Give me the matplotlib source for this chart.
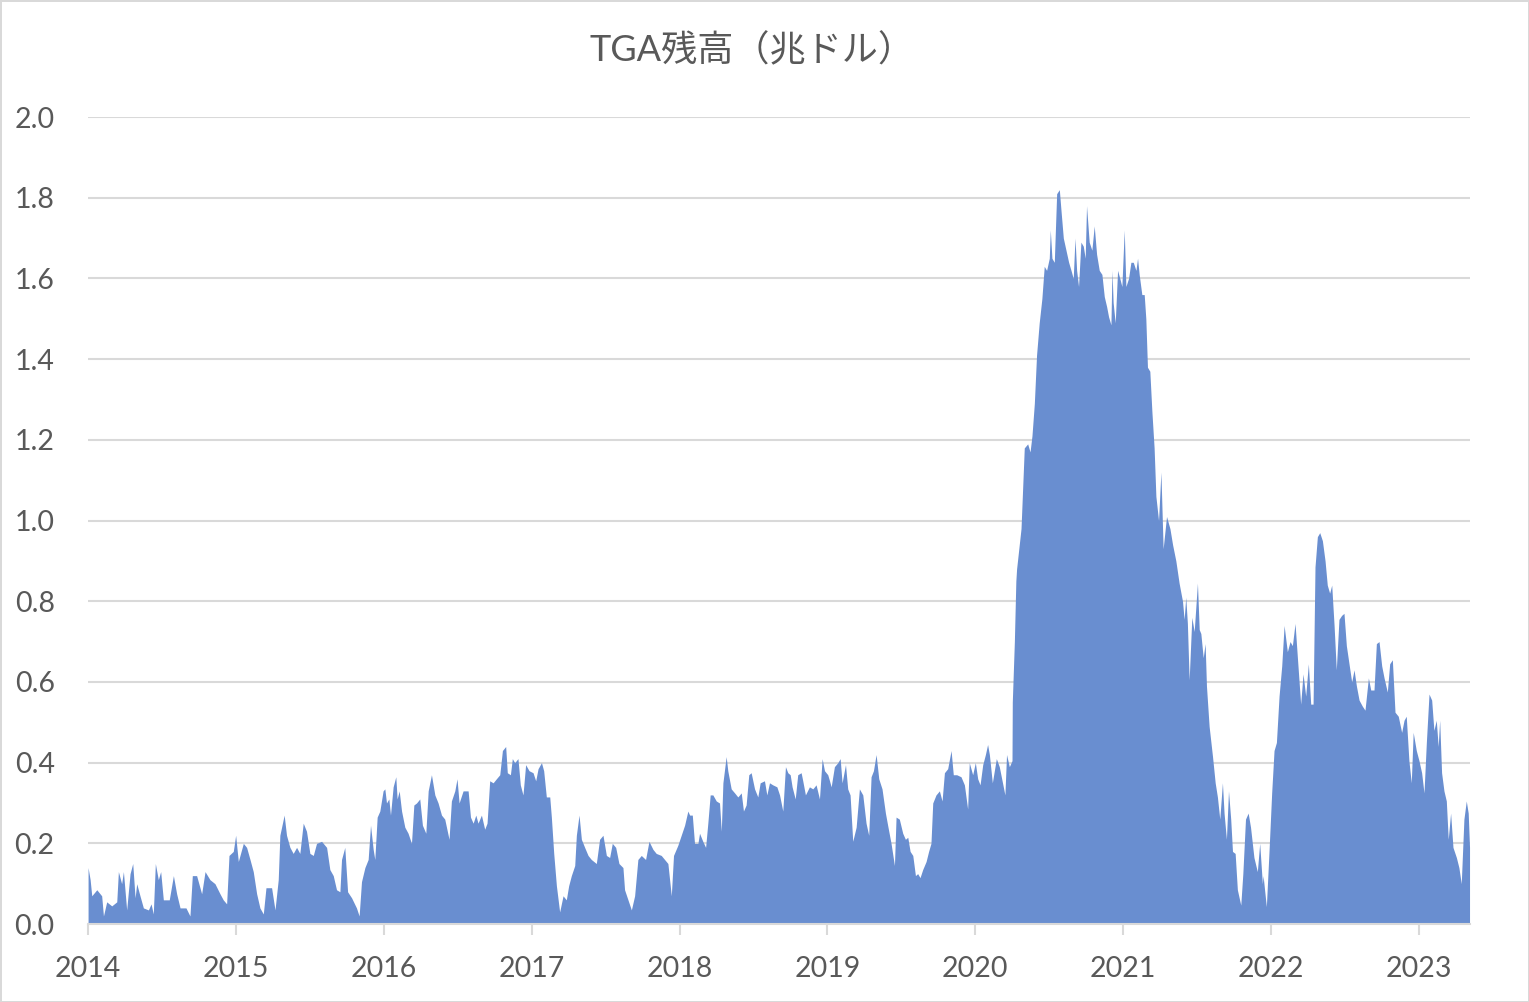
import matplotlib
matplotlib.use("Agg")
import matplotlib.pyplot as plt

# TGA balance (trillion USD); x is the decimal year
years = [
    2014.000, 2014.014, 2014.025, 2014.059, 2014.092, 2014.104, 2014.126, 2014.160, 2014.194, 2014.205,
    2014.227, 2014.239, 2014.261, 2014.284, 2014.302, 2014.318, 2014.329, 2014.351, 2014.374, 2014.408,
    2014.426, 2014.441, 2014.455, 2014.475, 2014.491, 2014.509, 2014.549, 2014.577, 2014.599, 2014.622,
    2014.662, 2014.689, 2014.705, 2014.734, 2014.768, 2014.791, 2014.824, 2014.858, 2014.892, 2014.914,
    2014.937, 2014.953, 2014.982, 2014.998, 2015.016, 2015.050, 2015.072, 2015.095, 2015.117, 2015.140,
    2015.162, 2015.185, 2015.203, 2015.241, 2015.264, 2015.286, 2015.297, 2015.326, 2015.342, 2015.365,
    2015.387, 2015.410, 2015.432, 2015.455, 2015.477, 2015.500, 2015.523, 2015.545, 2015.579, 2015.613,
    2015.635, 2015.658, 2015.680, 2015.703, 2015.714, 2015.736, 2015.755, 2015.782, 2015.815, 2015.833,
    2015.849, 2015.872, 2015.894, 2015.910, 2015.928, 2015.939, 2015.955, 2015.973, 2015.995, 2016.007,
    2016.018, 2016.034, 2016.045, 2016.063, 2016.081, 2016.090, 2016.104, 2016.120, 2016.142, 2016.164,
    2016.187, 2016.203, 2016.221, 2016.243, 2016.261, 2016.284, 2016.300, 2016.322, 2016.345, 2016.367,
    2016.390, 2016.412, 2016.441, 2016.457, 2016.480, 2016.495, 2016.509, 2016.536, 2016.570, 2016.586,
    2016.604, 2016.622, 2016.637, 2016.660, 2016.682, 2016.698, 2016.716, 2016.739, 2016.761, 2016.784,
    2016.802, 2016.824, 2016.835, 2016.856, 2016.869, 2016.885, 2016.907, 2016.923, 2016.941, 2016.959,
    2016.982, 2017.009, 2017.027, 2017.043, 2017.066, 2017.081, 2017.099, 2017.122, 2017.133, 2017.149,
    2017.167, 2017.189, 2017.212, 2017.234, 2017.250, 2017.268, 2017.291, 2017.302, 2017.320, 2017.336,
    2017.358, 2017.381, 2017.403, 2017.437, 2017.459, 2017.482, 2017.505, 2017.527, 2017.545, 2017.568,
    2017.590, 2017.617, 2017.628, 2017.651, 2017.674, 2017.696, 2017.718, 2017.741, 2017.770, 2017.793,
    2017.820, 2017.842, 2017.876, 2017.921, 2017.944, 2017.959, 2017.988, 2018.011, 2018.034, 2018.056,
    2018.068, 2018.086, 2018.101, 2018.124, 2018.135, 2018.157, 2018.176, 2018.191, 2018.207, 2018.225,
    2018.248, 2018.270, 2018.282, 2018.293, 2018.315, 2018.326, 2018.349, 2018.372, 2018.394, 2018.417,
    2018.432, 2018.450, 2018.468, 2018.484, 2018.507, 2018.529, 2018.545, 2018.574, 2018.590, 2018.608,
    2018.630, 2018.658, 2018.676, 2018.698, 2018.716, 2018.732, 2018.748, 2018.761, 2018.782, 2018.799,
    2018.822, 2018.833, 2018.851, 2018.878, 2018.901, 2018.923, 2018.946, 2018.964, 2018.980, 2019.002,
    2019.014, 2019.025, 2019.047, 2019.070, 2019.086, 2019.099, 2019.122, 2019.137, 2019.153, 2019.171,
    2019.194, 2019.216, 2019.239, 2019.261, 2019.279, 2019.295, 2019.311, 2019.329, 2019.347, 2019.369,
    2019.392, 2019.407, 2019.430, 2019.453, 2019.464, 2019.486, 2019.509, 2019.527, 2019.543, 2019.559,
    2019.577, 2019.595, 2019.610, 2019.626, 2019.644, 2019.667, 2019.684, 2019.700, 2019.712, 2019.734,
    2019.757, 2019.775, 2019.791, 2019.813, 2019.836, 2019.851, 2019.874, 2019.903, 2019.926, 2019.948,
    2019.959, 2019.982, 2020.000, 2020.016, 2020.032, 2020.050, 2020.068, 2020.083, 2020.095, 2020.115,
    2020.142, 2020.162, 2020.200, 2020.211, 2020.230, 2020.248, 2020.250, 2020.264, 2020.274, 2020.279,
    2020.309, 2020.331, 2020.354, 2020.370, 2020.383, 2020.399, 2020.414, 2020.432, 2020.450, 2020.466,
    2020.482, 2020.500, 2020.507, 2020.518, 2020.534, 2020.550, 2020.568, 2020.579, 2020.595, 2020.613,
    2020.631, 2020.647, 2020.662, 2020.674, 2020.685, 2020.698, 2020.714, 2020.730, 2020.743, 2020.752,
    2020.770, 2020.788, 2020.804, 2020.820, 2020.838, 2020.856, 2020.872, 2020.888, 2020.901, 2020.917,
    2020.924, 2020.932, 2020.946, 2020.962, 2020.977, 2020.991, 2021.007, 2021.018, 2021.036, 2021.052,
    2021.068, 2021.086, 2021.097, 2021.108, 2021.126, 2021.142, 2021.153, 2021.164, 2021.180, 2021.194,
    2021.209, 2021.221, 2021.239, 2021.255, 2021.270, 2021.293, 2021.316, 2021.334, 2021.356, 2021.378,
    2021.401, 2021.412, 2021.423, 2021.434, 2021.446, 2021.464, 2021.480, 2021.502, 2021.514, 2021.525,
    2021.541, 2021.554, 2021.563, 2021.581, 2021.604, 2021.622, 2021.637, 2021.653, 2021.671, 2021.682,
    2021.698, 2021.712, 2021.727, 2021.739, 2021.757, 2021.772, 2021.795, 2021.809, 2021.827, 2021.845,
    2021.861, 2021.884, 2021.907, 2021.923, 2021.941, 2021.946, 2021.968, 2021.986, 2022.004, 2022.020,
    2022.036, 2022.054, 2022.072, 2022.088, 2022.110, 2022.128, 2022.144, 2022.162, 2022.178, 2022.200,
    2022.216, 2022.234, 2022.252, 2022.268, 2022.284, 2022.297, 2022.313, 2022.329, 2022.347, 2022.365,
    2022.380, 2022.396, 2022.410, 2022.426, 2022.441, 2022.459, 2022.477, 2022.493, 2022.509, 2022.527,
    2022.545, 2022.561, 2022.577, 2022.595, 2022.617, 2022.635, 2022.658, 2022.674, 2022.696, 2022.712,
    2022.730, 2022.748, 2022.764, 2022.786, 2022.802, 2022.820, 2022.838, 2022.860, 2022.883, 2022.899,
    2022.914, 2022.932, 2022.948, 2022.961, 2022.982, 2023.000, 2023.018, 2023.034, 2023.050, 2023.068,
    2023.086, 2023.101, 2023.117, 2023.130, 2023.140, 2023.153, 2023.169, 2023.185, 2023.198, 2023.214,
    2023.230, 2023.253, 2023.270, 2023.286, 2023.304, 2023.320, 2023.333, 2023.342,
]
tga = [
    0.140, 0.110, 0.070, 0.085, 0.070, 0.020, 0.055, 0.045, 0.055, 0.130,
    0.100, 0.130, 0.035, 0.125, 0.150, 0.065, 0.100, 0.070, 0.040, 0.035,
    0.050, 0.025, 0.150, 0.110, 0.130, 0.060, 0.060, 0.120, 0.075, 0.040,
    0.040, 0.020, 0.120, 0.120, 0.075, 0.130, 0.110, 0.100, 0.075, 0.060,
    0.050, 0.170, 0.180, 0.220, 0.155, 0.200, 0.190, 0.160, 0.130, 0.075,
    0.040, 0.025, 0.090, 0.090, 0.035, 0.110, 0.220, 0.270, 0.220, 0.190,
    0.175, 0.190, 0.175, 0.250, 0.230, 0.175, 0.170, 0.200, 0.205, 0.190,
    0.135, 0.120, 0.085, 0.080, 0.160, 0.190, 0.080, 0.065, 0.040, 0.020,
    0.105, 0.140, 0.160, 0.245, 0.185, 0.160, 0.265, 0.280, 0.330, 0.335,
    0.300, 0.310, 0.270, 0.340, 0.365, 0.310, 0.330, 0.280, 0.240, 0.225,
    0.200, 0.295, 0.300, 0.310, 0.245, 0.225, 0.330, 0.370, 0.320, 0.300,
    0.270, 0.260, 0.210, 0.305, 0.330, 0.360, 0.300, 0.330, 0.330, 0.265,
    0.250, 0.270, 0.250, 0.270, 0.235, 0.250, 0.355, 0.350, 0.360, 0.370,
    0.430, 0.440, 0.375, 0.370, 0.410, 0.400, 0.410, 0.345, 0.320, 0.395,
    0.380, 0.375, 0.355, 0.385, 0.400, 0.380, 0.315, 0.315, 0.265, 0.175,
    0.095, 0.030, 0.070, 0.060, 0.095, 0.120, 0.145, 0.220, 0.270, 0.210,
    0.190, 0.170, 0.160, 0.150, 0.210, 0.220, 0.170, 0.165, 0.200, 0.190,
    0.150, 0.140, 0.085, 0.060, 0.035, 0.070, 0.160, 0.170, 0.160, 0.205,
    0.185, 0.175, 0.170, 0.150, 0.070, 0.170, 0.195, 0.220, 0.245, 0.280,
    0.270, 0.270, 0.200, 0.200, 0.225, 0.205, 0.190, 0.250, 0.320, 0.320,
    0.305, 0.300, 0.230, 0.350, 0.415, 0.380, 0.335, 0.325, 0.315, 0.325,
    0.280, 0.295, 0.370, 0.375, 0.335, 0.315, 0.350, 0.355, 0.320, 0.350,
    0.345, 0.340, 0.320, 0.280, 0.390, 0.375, 0.370, 0.340, 0.310, 0.370,
    0.375, 0.355, 0.320, 0.340, 0.335, 0.345, 0.310, 0.410, 0.380, 0.370,
    0.355, 0.340, 0.390, 0.400, 0.410, 0.350, 0.395, 0.335, 0.320, 0.205,
    0.240, 0.335, 0.320, 0.250, 0.220, 0.365, 0.380, 0.420, 0.360, 0.335,
    0.275, 0.245, 0.200, 0.145, 0.265, 0.260, 0.225, 0.210, 0.215, 0.180,
    0.170, 0.120, 0.125, 0.115, 0.135, 0.155, 0.180, 0.200, 0.300, 0.320,
    0.330, 0.305, 0.375, 0.385, 0.430, 0.370, 0.370, 0.365, 0.345, 0.285,
    0.400, 0.370, 0.400, 0.360, 0.345, 0.395, 0.420, 0.445, 0.420, 0.350,
    0.410, 0.390, 0.320, 0.420, 0.390, 0.405, 0.550, 0.700, 0.850, 0.880,
    0.980, 1.180, 1.190, 1.170, 1.210, 1.290, 1.410, 1.490, 1.550, 1.630,
    1.620, 1.650, 1.720, 1.650, 1.640, 1.810, 1.820, 1.770, 1.700, 1.670,
    1.640, 1.620, 1.600, 1.700, 1.620, 1.580, 1.690, 1.680, 1.650, 1.780,
    1.690, 1.670, 1.730, 1.660, 1.620, 1.610, 1.555, 1.530, 1.505, 1.485,
    1.620, 1.540, 1.490, 1.620, 1.600, 1.580, 1.720, 1.580, 1.600, 1.640,
    1.640, 1.620, 1.650, 1.610, 1.560, 1.560, 1.500, 1.380, 1.370, 1.270,
    1.180, 1.060, 1.000, 1.120, 0.930, 1.010, 0.980, 0.940, 0.900, 0.845,
    0.800, 0.755, 0.810, 0.745, 0.605, 0.760, 0.725, 0.845, 0.730, 0.720,
    0.660, 0.695, 0.590, 0.490, 0.415, 0.350, 0.315, 0.260, 0.350, 0.275,
    0.210, 0.330, 0.260, 0.180, 0.175, 0.085, 0.047, 0.125, 0.260, 0.275,
    0.240, 0.165, 0.130, 0.200, 0.100, 0.120, 0.043, 0.180, 0.325, 0.430,
    0.450, 0.565, 0.640, 0.740, 0.675, 0.700, 0.690, 0.745, 0.660, 0.545,
    0.620, 0.565, 0.645, 0.545, 0.545, 0.885, 0.960, 0.970, 0.950, 0.900,
    0.840, 0.820, 0.840, 0.740, 0.630, 0.755, 0.765, 0.770, 0.690, 0.645,
    0.600, 0.630, 0.590, 0.555, 0.540, 0.530, 0.610, 0.580, 0.580, 0.695,
    0.700, 0.640, 0.610, 0.575, 0.645, 0.655, 0.525, 0.515, 0.475, 0.505,
    0.515, 0.405, 0.350, 0.475, 0.430, 0.405, 0.375, 0.325, 0.450, 0.570,
    0.555, 0.480, 0.505, 0.440, 0.505, 0.375, 0.330, 0.305, 0.210, 0.275,
    0.190, 0.165, 0.140, 0.100, 0.260, 0.305, 0.275, 0.190,
]
year_ticks = [2014, 2015, 2016, 2017, 2018, 2019, 2020, 2021, 2022, 2023]
y_ticks = [0.0, 0.2, 0.4, 0.6, 0.8, 1.0, 1.2, 1.4, 1.6, 1.8, 2.0]

GRID = "#d9d9d9"
TEXT = "#595959"
FILL = "#698ed0"

plt.rcParams["font.family"] = ["Lato", "Noto Sans CJK JP", "DejaVu Sans"]

fig = plt.figure(figsize=(15.29, 10.02), dpi=100, edgecolor=GRID, linewidth=2)
ax = fig.add_axes([0.0576, 0.0778, 0.9038, 0.8054])

ax.fill_between(years, tga, 0, color=FILL, linewidth=0, zorder=2)

ax.set_xlim(2014, 2023.345)
ax.set_ylim(0, 2.0)
ax.set_xticks(year_ticks)
ax.set_xticklabels([str(y) for y in year_ticks])
ax.set_yticks(y_ticks)
ax.set_yticklabels([f"{v:.1f}" for v in y_ticks])

ax.yaxis.grid(True, color=GRID, linewidth=1.5, zorder=1)
ax.set_axisbelow(True)
for side in ("top", "right", "left"):
  ax.spines[side].set_visible(False)
ax.spines["bottom"].set_color(GRID)
ax.spines["bottom"].set_linewidth(1.5)
ax.spines["bottom"].set_zorder(3)

ax.tick_params(axis="x", direction="out", length=8, width=1.5, color=GRID,
               labelcolor=TEXT, labelsize=20.5, pad=15)
ax.tick_params(axis="y", length=0, labelcolor=TEXT, labelsize=20.5, pad=24)

fig.text(0.492, 0.950, "TGA残高（兆ドル）", ha="center", va="center",
         fontsize=26, color=TEXT, family=["Lato", "Noto Sans CJK JP"])

fig.savefig("out.png", dpi=100)
